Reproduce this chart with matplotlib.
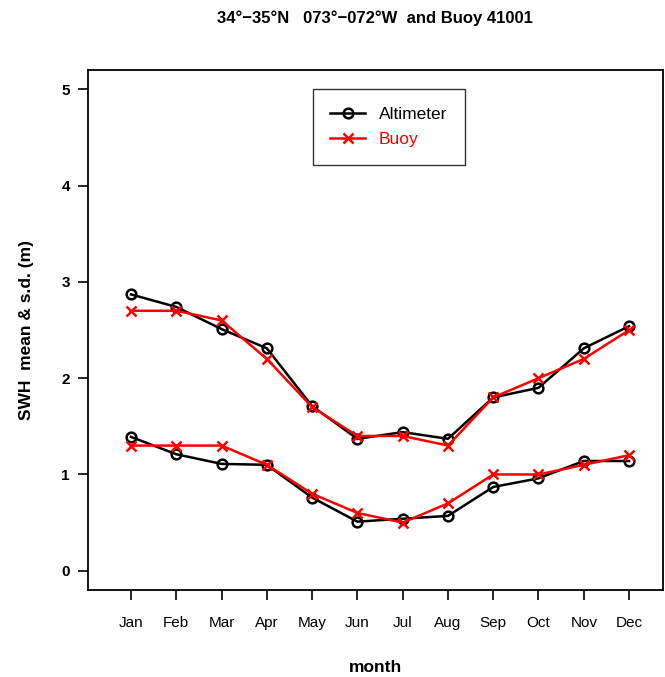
import numpy as np
import matplotlib
matplotlib.use('Agg')
import matplotlib.pyplot as plt

# Monthly SWH statistics
months = ['Jan', 'Feb', 'Mar', 'Apr', 'May', 'Jun', 'Jul', 'Aug', 'Sep', 'Oct', 'Nov', 'Dec']
altMean = [2.87, 2.74, 2.51, 2.31, 1.71, 1.37, 1.44, 1.37, 1.80, 1.90, 2.31, 2.54]
buoyMean = [2.70, 2.70, 2.60, 2.20, 1.70, 1.40, 1.40, 1.30, 1.80, 2.00, 2.20, 2.50]
altSd = [1.39, 1.21, 1.11, 1.10, 0.76, 0.51, 0.54, 0.57, 0.87, 0.96, 1.14, 1.14]
buoySd = [1.30, 1.30, 1.30, 1.10, 0.80, 0.60, 0.50, 0.70, 1.00, 1.00, 1.10, 1.20]

plt.rcParams['font.family'] = ['Liberation Sans', 'DejaVu Sans']

fig = plt.figure(figsize=(6.65, 6.77), dpi=100)
ax = fig.add_axes([0.1323, 0.1285, 0.8647, 0.768])

x = np.arange(1, 13)
altKw = dict(color='black', lw=1.8, marker='o', ms=7, mfc='none', mew=1.8)
buoyKw = dict(color='red', lw=1.8, marker='x', ms=7, mew=1.8)

ax.plot(x, altMean, label='Altimeter', **altKw)
ax.plot(x, buoyMean, label='Buoy', **buoyKw)
ax.plot(x, altSd, **altKw)
ax.plot(x, buoySd, **buoyKw)

ax.set_xlim(0.05, 12.75)
ax.set_ylim(-0.2, 5.2)
ax.set_xticks(x)
ax.set_xticklabels(months, fontsize=11)
ax.set_yticks(range(0, 6))
ax.set_yticklabels([str(v) for v in range(0, 6)], fontsize=11, fontweight='bold')
ax.tick_params(axis='both', direction='out', length=7, width=1.2, colors='black')
ax.tick_params(axis='x', pad=12)
ax.tick_params(axis='y', pad=6)
for s in ax.spines.values():
    s.set_linewidth(1.3)

ax.set_xlabel('month', fontsize=12.5, fontweight='bold', labelpad=21)
ax.set_ylabel('SWH  mean & s.d. (m)', fontsize=12.5, fontweight='bold', labelpad=20)
fig.text(0.5635, 0.973, '34°\u221235°N   073°\u2212072°W  and Buoy 41001',
         ha='center', va='center', fontsize=12, fontweight='bold')

leg = ax.legend(loc='upper left', bbox_to_anchor=(0.391, 0.963), fontsize=12.5,
                frameon=True, fancybox=False, edgecolor='black', handlelength=2.0,
                borderpad=1.0, labelspacing=0.6, handletextpad=0.8, borderaxespad=0)
leg.get_frame().set_linewidth(1.0)
leg.get_texts()[1].set_color('red')

fig.savefig('out.png', dpi=100)
